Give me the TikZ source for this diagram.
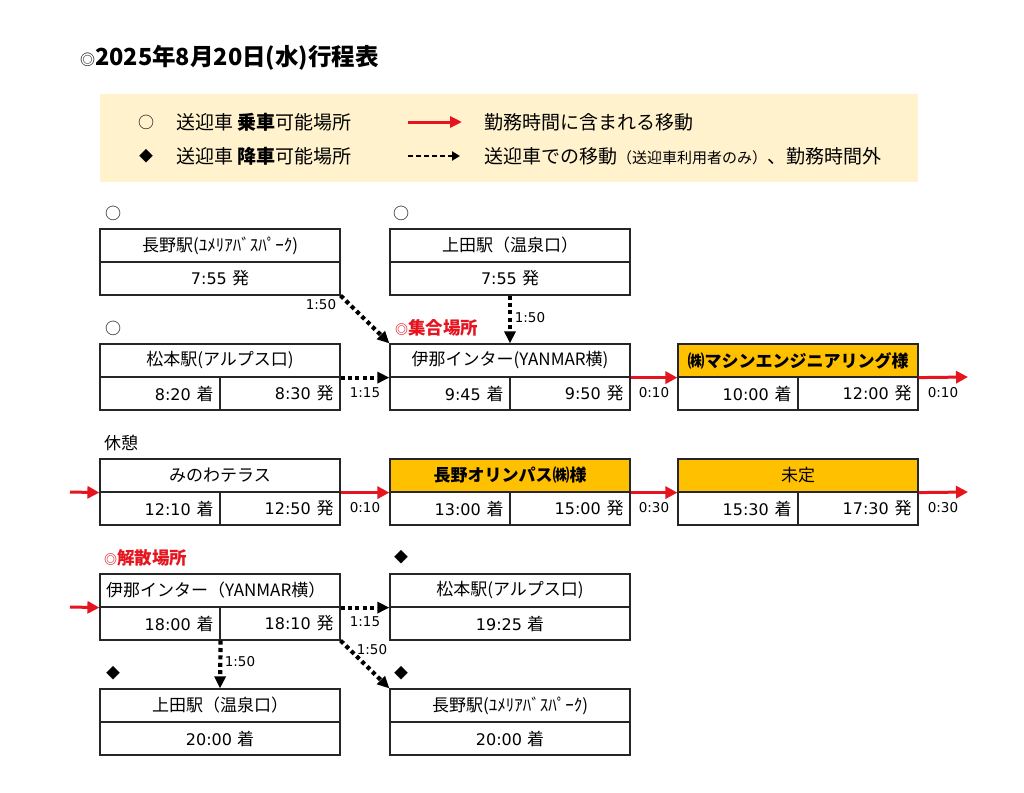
\documentclass[tikz,border=0pt]{standalone}
\usepackage{fontspec}
\setmainfont{Noto Sans CJK JP}
\newfontfamily\dv{DejaVu Sans}
\usetikzlibrary{arrows.meta}
\definecolor{legbg}{HTML}{FFF2CC}
\definecolor{gold}{HTML}{FFC000}
\definecolor{myred}{HTML}{E6141E}
\definecolor{lc}{HTML}{262626}
\newcommand{\bxf}{\fontsize{17}{19}\selectfont}
\newcommand{\lgf}{\fontsize{19}{21}\selectfont}
\newcommand{\tmv}[2]{{\dv\fontsize{16}{18}\selectfont #1\ }#2}
\begin{document}
\begin{tikzpicture}[x=1pt,y=-1pt,
  cellbase/.style={draw=lc, line width=1.2pt, minimum height=33pt, inner sep=0pt, font=\bxf},
  hdr/.style={cellbase, minimum width=240pt},
  hdrg/.style={hdr, fill=gold},
  hdrl/.style={hdr, text width=228pt, align=left},
  half/.style={cellbase, minimum width=120pt, text width=107pt, align=right},
  redarr/.style={draw=myred, line width=3pt, -{Triangle[length=12pt,width=12pt]}},
  dotarr/.style={draw=black, line width=4.2pt, dash pattern=on 4pt off 3.4pt, -{Triangle[length=12pt,width=11pt]}},
  tlab/.style={font=\dv\fontsize{13.5}{15}\selectfont, inner sep=0pt},
  mk/.style={font=\fontsize{16}{16}\selectfont, inner sep=0pt},
  mkd/.style={font=\fontsize{14}{14}\selectfont, inner sep=0pt},
  lg/.style={font=\lgf, inner sep=0pt, anchor=west},
  redt/.style={font=\fontsize{17.5}{19}\selectfont\bfseries, text=myred, inner sep=0pt, anchor=west}
]
\useasboundingbox (0,0) rectangle (1024,792);
\fill[white] (0,0) rectangle (1024,792);

% title
\node[inner sep=0pt, anchor=west] (title) at (80,58) {{\fontsize{15}{16}\selectfont ◎}{\fontsize{23.5}{25}\selectfont\bfseries 2025年8月20日(水)行程表}};

% legend
\fill[legbg] (100,94) rectangle (918,182);
\node[mk] (lgo) at (146,122) {○};
\node[mkd] (lgd) at (146,156) {◆};
\node[lg] (lgt1) at (176,122) {送迎車 \textbf{乗車}可能場所};
\node[lg] (lgt2) at (176,156) {送迎車 \textbf{降車}可能場所};
\coordinate (la1) at (408,122); \coordinate (lb1) at (462,122);
\coordinate (la2) at (408,156); \coordinate (lb2) at (460,156);
\draw[draw=myred, line width=3pt, -{Triangle[length=12pt,width=11pt]}] (la1) -- (lb1);
\draw[line width=2.5pt, dash pattern=on 5pt off 3pt, -{Triangle[length=8pt,width=9pt]}] (la2) -- (lb2);
\node[lg] (lgt3) at (484,122) {勤務時間に含まれる移動};
\node[lg] (lgt4) at (484,156) {送迎車での移動{\fontsize{15}{17}\selectfont（送迎車利用者のみ）}、勤務時間外};

% markers
\node[mk] (mk1) at (113,213) {○};
\node[mk] (mk2) at (401,213) {○};
\node[mk] (mk3) at (113,328) {○};
\node[mkd] (mk4) at (401,557) {◆};
\node[mkd] (mk5) at (113,673) {◆};
\node[mkd] (mk6) at (401,673) {◆};
\node[inner sep=0pt, anchor=west, font=\fontsize{17}{19}\selectfont] (rest) at (104,443) {休憩};
\node[redt] (meet) at (395,328) {{\fontsize{13}{14}\selectfont ◎}集合場所};
\node[redt] (disb) at (104,558) {{\fontsize{13}{14}\selectfont ◎}解散場所};

% row 1
\node[hdr] (n1h) at (220,245.5) {長野駅(ﾕﾒﾘｱﾊﾞｽﾊﾟｰｸ)};
\node[hdr] (n1b) at (220,278.5) {\tmv{7:55}{発}};
\node[hdr] (u1h) at (510,245.5) {上田駅（温泉口）};
\node[hdr] (u1b) at (510,278.5) {\tmv{7:55}{発}};

% row 2
\node[hdr] (m1h) at (220,360.5) {松本駅(アルプス口)};
\node[half] (m1a) at (160,393.5) {\tmv{8:20}{着}};
\node[half] (m1d) at (280,393.5) {\tmv{8:30}{発}};
\node[hdr] (i1h) at (510,360.5) {伊那インター(YANMAR横)};
\node[half] (i1a) at (450,393.5) {\tmv{9:45}{着}};
\node[half] (i1d) at (570,393.5) {\tmv{9:50}{発}};
\node[hdrg] (s1h) at (798,360.5) {\textbf{㈱マシンエンジニアリング様}};
\node[half] (s1a) at (738,393.5) {\tmv{10:00}{着}};
\node[half] (s1d) at (858,393.5) {\tmv{12:00}{発}};

% row 3
\node[hdr] (w1h) at (220,475.5) {みのわテラス};
\node[half] (w1a) at (160,508.5) {\tmv{12:10}{着}};
\node[half] (w1d) at (280,508.5) {\tmv{12:50}{発}};
\node[hdrg] (o1h) at (510,475.5) {\textbf{長野オリンパス㈱様}};
\node[half] (o1a) at (450,508.5) {\tmv{13:00}{着}};
\node[half] (o1d) at (570,508.5) {\tmv{15:00}{発}};
\node[hdrg] (x1h) at (798,475.5) {未定};
\node[half] (x1a) at (738,508.5) {\tmv{15:30}{着}};
\node[half] (x1d) at (858,508.5) {\tmv{17:30}{発}};

% row 4
\node[hdrl] (i2h) at (220,590.5) {伊那インター（YANMAR横）};
\node[half] (i2a) at (160,623.5) {\tmv{18:00}{着}};
\node[half] (i2d) at (280,623.5) {\tmv{18:10}{発}};
\node[hdr] (m2h) at (510,590.5) {松本駅(アルプス口)};
\node[hdr] (m2b) at (510,623.5) {\tmv{19:25}{着}};

% row 5
\node[hdr] (u2h) at (220,705.5) {上田駅（温泉口）};
\node[hdr] (u2b) at (220,738.5) {\tmv{20:00}{着}};
\node[hdr] (n2h) at (510,705.5) {長野駅(ﾕﾒﾘｱﾊﾞｽﾊﾟｰｸ)};
\node[hdr] (n2b) at (510,738.5) {\tmv{20:00}{着}};

% free ends
\coordinate (e1) at (968,377);
\coordinate (e2) at (70,492);
\coordinate (e3) at (968,492);
\coordinate (e4) at (70,607);

% connectors
\draw[dotarr] (n1b.south east) -- (i1h.north west);
\draw[dotarr] (u1b.south) -- (i1h.north);
\draw[dotarr] (m1h.south east) -- (i1h.south west);
\draw[redarr] (i1h.south east) -- (s1h.south west);
\draw[redarr] (s1h.south east) -- (e1);
\draw[redarr] (e2) -- (w1h.south west);
\draw[redarr] (w1h.south east) -- (o1h.south west);
\draw[redarr] (o1h.south east) -- (x1h.south west);
\draw[redarr] (x1h.south east) -- (e3);
\draw[redarr] (e4) -- (i2h.south west);
\draw[dotarr] (i2h.south east) -- (m2h.south west);
\draw[dotarr] (i2d.south east) -- (n2h.north west);
\draw[dotarr] (i2a.south east) -- (u2h.north);

% time labels
\node[tlab] (t1) at (321,305) {1:50};
\node[tlab] (t2) at (530,318) {1:50};
\node[tlab] (t3) at (365,393) {1:15};
\node[tlab] (t4) at (654,393) {0:10};
\node[tlab] (t5) at (943,393) {0:10};
\node[tlab] (t6) at (365,508) {0:10};
\node[tlab] (t7) at (654,508) {0:30};
\node[tlab] (t8) at (943,508) {0:30};
\node[tlab] (t9) at (365,622) {1:15};
\node[tlab] (t10) at (372,650) {1:50};
\node[tlab] (t11) at (240,662) {1:50};
\end{tikzpicture}
\end{document}
